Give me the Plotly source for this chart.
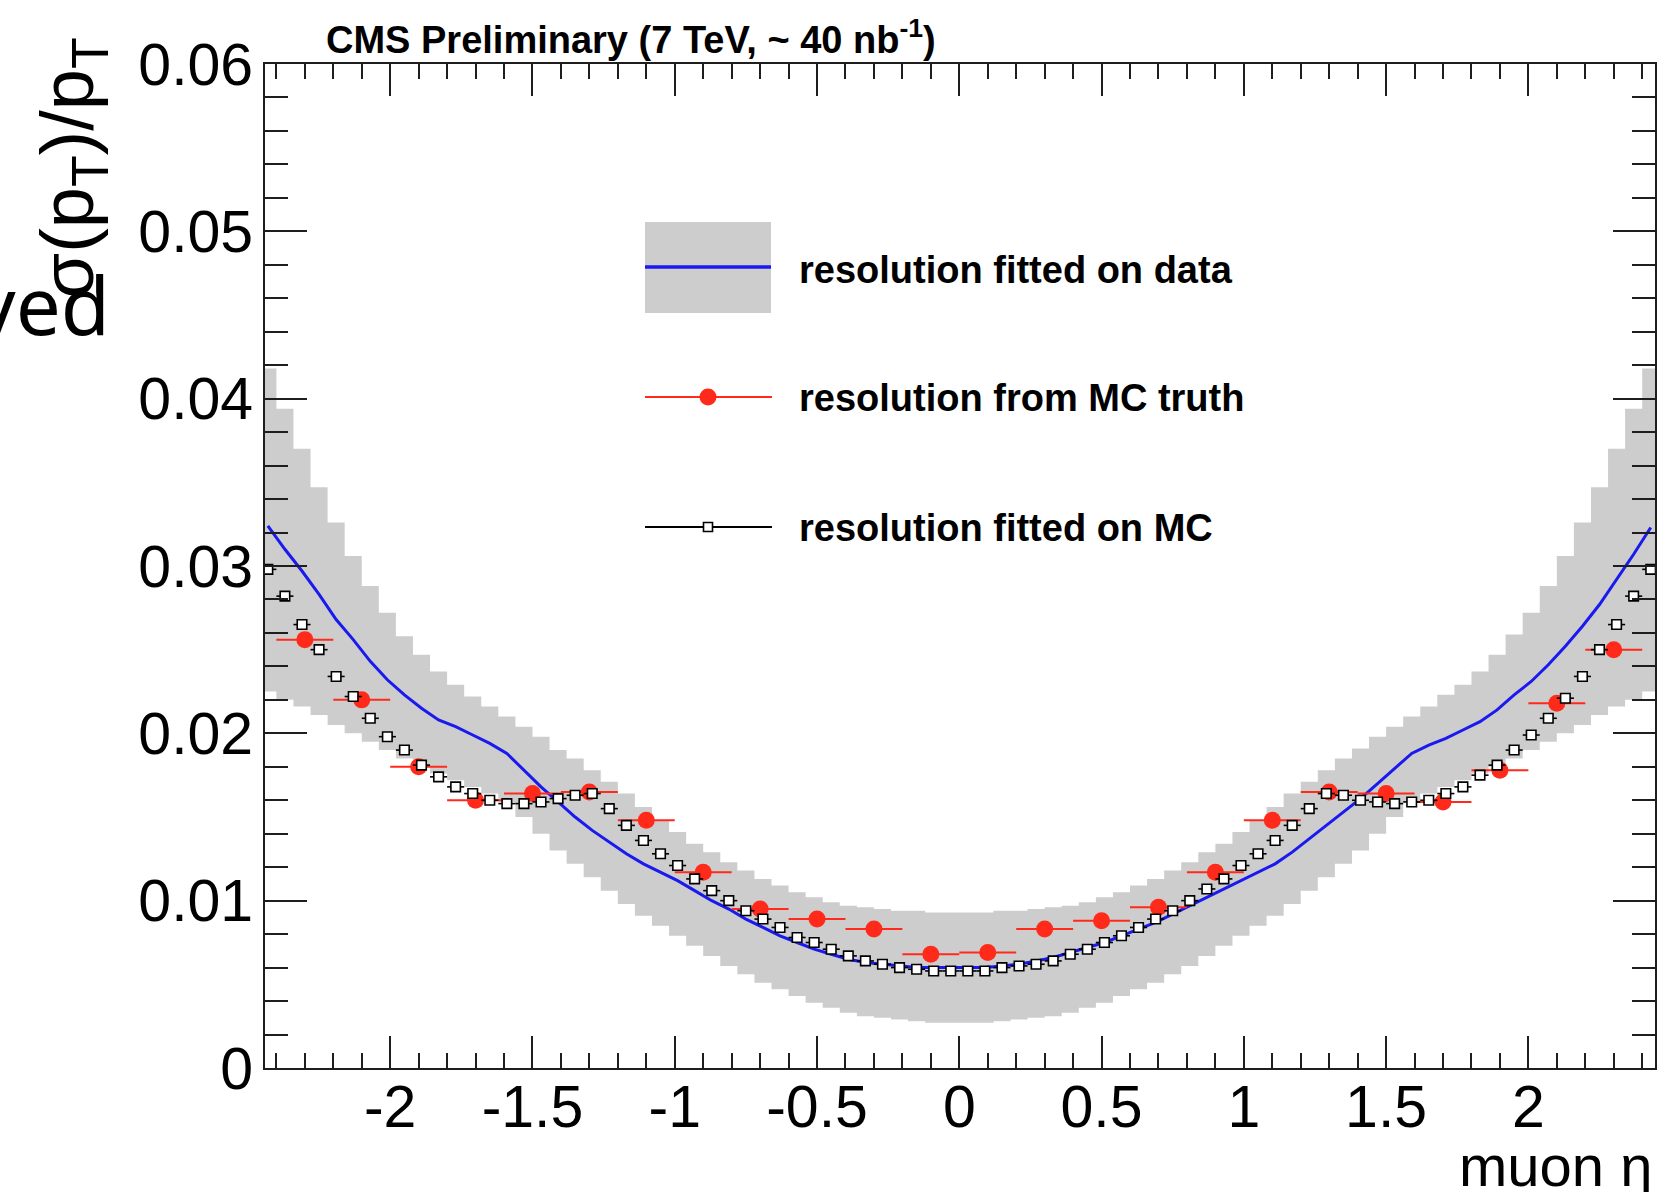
import plotly.graph_objects as go

# ---------------- data ----------------
eta_centers = [
    -2.43, -2.37, -2.31, -2.25, -2.19, -2.13, -2.07, -2.01, -1.95, -1.89,
    -1.83, -1.77, -1.71, -1.65, -1.59, -1.53, -1.47, -1.41, -1.35, -1.29,
    -1.23, -1.17, -1.11, -1.05, -0.99, -0.93, -0.87, -0.81, -0.75, -0.69,
    -0.63, -0.57, -0.51, -0.45, -0.39, -0.33, -0.27, -0.21, -0.15, -0.09,
    -0.03, 0.03, 0.09, 0.15, 0.21, 0.27, 0.33, 0.39, 0.45, 0.51,
    0.57, 0.63, 0.69, 0.75, 0.81, 0.87, 0.93, 0.99, 1.05, 1.11,
    1.17, 1.23, 1.29, 1.35, 1.41, 1.47, 1.53, 1.59, 1.65, 1.71,
    1.77, 1.83, 1.89, 1.95, 2.01, 2.07, 2.13, 2.19, 2.25, 2.31,
    2.37, 2.43]
bin_half_width = 0.03

# resolution fitted on data (blue line)
fit_data = [
    0.0324, 0.0310, 0.0297, 0.0283, 0.0268, 0.0256, 0.0243, 0.0232, 0.0223, 0.0215,
    0.0208, 0.0204, 0.0199, 0.0194, 0.0188, 0.0178, 0.0168, 0.0159, 0.0150, 0.0142,
    0.0135, 0.0128, 0.0122, 0.0117, 0.0112, 0.0106, 0.0100, 0.0095, 0.0089, 0.0084,
    0.0079, 0.0075, 0.0071, 0.0068, 0.0065, 0.0063, 0.0062, 0.0061, 0.0060, 0.0060,
    0.0060, 0.0060, 0.0060, 0.0061, 0.0062, 0.0064, 0.0066, 0.0069, 0.0072, 0.0075,
    0.0079, 0.0083, 0.0087, 0.0092, 0.0097, 0.0102, 0.0107, 0.0112, 0.0117, 0.0122,
    0.0129, 0.0137, 0.0145, 0.0153, 0.0161, 0.0170, 0.0179, 0.0188, 0.0193, 0.0197,
    0.0202, 0.0207, 0.0214, 0.0223, 0.0231, 0.0241, 0.0252, 0.0264, 0.0277, 0.0292,
    0.0307, 0.0323]

# uncertainty band of the data fit (grey)
band_upper = [
    0.0418, 0.0394, 0.0370, 0.0347, 0.0326, 0.0306, 0.0288, 0.0272, 0.0258, 0.0247,
    0.0237, 0.0229, 0.0222, 0.0216, 0.0210, 0.0204, 0.0198, 0.0190, 0.0185, 0.0178,
    0.0171, 0.0164, 0.0156, 0.0148, 0.0141, 0.0134, 0.0129, 0.0123, 0.0118, 0.0113,
    0.0109, 0.0105, 0.0102, 0.0099, 0.0097, 0.0096, 0.0095, 0.0094, 0.0094, 0.0093,
    0.0093, 0.0093, 0.0093, 0.0094, 0.0094, 0.0095, 0.0096, 0.0097, 0.0099, 0.0102,
    0.0105, 0.0109, 0.0113, 0.0118, 0.0123, 0.0129, 0.0134, 0.0141, 0.0148, 0.0156,
    0.0164, 0.0171, 0.0178, 0.0185, 0.0191, 0.0198, 0.0204, 0.0210, 0.0216, 0.0223,
    0.0229, 0.0237, 0.0247, 0.0259, 0.0272, 0.0288, 0.0306, 0.0326, 0.0347, 0.0370,
    0.0394, 0.0418]
band_lower = [
    0.0225, 0.0220, 0.0216, 0.0211, 0.0205, 0.0200, 0.0195, 0.0190, 0.0185, 0.0180,
    0.0176, 0.0172, 0.0168, 0.0164, 0.0159, 0.0150, 0.0140, 0.0130, 0.0122, 0.0114,
    0.0106, 0.0098, 0.0091, 0.0085, 0.0079, 0.0073, 0.0067, 0.0061, 0.0056, 0.0051,
    0.0047, 0.0043, 0.0039, 0.0036, 0.0033, 0.0031, 0.0030, 0.0029, 0.0028, 0.0027,
    0.0027, 0.0027, 0.0027, 0.0028, 0.0029, 0.0030, 0.0031, 0.0033, 0.0036, 0.0039,
    0.0043, 0.0047, 0.0051, 0.0056, 0.0061, 0.0067, 0.0073, 0.0079, 0.0085, 0.0091,
    0.0098, 0.0106, 0.0114, 0.0122, 0.0130, 0.0140, 0.0150, 0.0159, 0.0164, 0.0168,
    0.0172, 0.0176, 0.0180, 0.0185, 0.0190, 0.0195, 0.0200, 0.0205, 0.0211, 0.0216,
    0.0220, 0.0225]

# resolution fitted on MC (open squares)
fit_mc = [
    0.0298, 0.0282, 0.0265, 0.0250, 0.0234, 0.0222, 0.0209, 0.0198, 0.0190, 0.0181,
    0.0174, 0.0168, 0.0164, 0.0160, 0.0158, 0.0158, 0.0159, 0.0161, 0.0163, 0.0164,
    0.0155, 0.0145, 0.0136, 0.0128, 0.0121, 0.0113, 0.0106, 0.0100, 0.0094, 0.0089,
    0.0084, 0.0078, 0.0075, 0.0071, 0.0067, 0.0064, 0.0062, 0.0060, 0.0059, 0.0058,
    0.0058, 0.0058, 0.0058, 0.0060, 0.0061, 0.0062, 0.0064, 0.0068, 0.0071, 0.0075,
    0.0079, 0.0084, 0.0089, 0.0094, 0.0100, 0.0107, 0.0113, 0.0121, 0.0128, 0.0136,
    0.0145, 0.0155, 0.0164, 0.0163, 0.0160, 0.0159, 0.0158, 0.0159, 0.0160, 0.0164,
    0.0168, 0.0175, 0.0181, 0.0190, 0.0199, 0.0209, 0.0221, 0.0234, 0.0250, 0.0265,
    0.0282, 0.0298]

# resolution from MC truth (red points)
truth_eta = [-2.3, -2.1, -1.9, -1.7, -1.5, -1.3, -1.1, -0.9, -0.7, -0.5, -0.3, -0.1,
             0.1, 0.3, 0.5, 0.7, 0.9, 1.1, 1.3, 1.5, 1.7, 1.9, 2.1, 2.3]
truth_res = [0.0256, 0.0220, 0.0180, 0.0160, 0.0164, 0.0165, 0.0148, 0.0117, 0.0095, 0.0089,
             0.0083, 0.0068, 0.0069, 0.0083, 0.0088, 0.0096, 0.0117, 0.0148, 0.0165, 0.0164,
             0.0159, 0.0178, 0.0218, 0.0250]
truth_half_width = 0.1

x_tick_vals = [-2, -1.5, -1, -0.5, 0, 0.5, 1, 1.5, 2]
x_tick_text = ["-2", "-1.5", "-1", "-0.5", "0", "0.5", "1", "1.5", "2"]
y_tick_vals = [0, 0.01, 0.02, 0.03, 0.04, 0.05, 0.06]
y_tick_text = ["0", "0.01", "0.02", "0.03", "0.04", "0.05", "0.06"]

legend_labels = ["resolution fitted on data", "resolution from MC truth",
                 "resolution fitted on MC"]
title_text = "CMS Preliminary (7 TeV, ~ 40 nb<sup>-1</sup>)"
x_title = "muon η"
y_title = "σ(p<sub>T</sub>)/p<sub>T</sub>"
side_text = "ved"

# ---------------- style / layout ----------------
W, H = 1669, 1192
PL, PR, PT, PB = 265, 1655, 64, 1068
GREY = "#cdcdcd"
BLUE = "#1a1aee"
RED = "#ff2a1a"
AX = "#1e1e1e"
FONT = "Liberation Sans, Arial, Helvetica, sans-serif"


def px(x):
    return (x - PL) / (PR - PL)


def py(y):
    return (PB - y) / (PB - PT)


# stepped band polygon built from the bins
band_x, band_y = [], []
for c, u in zip(eta_centers, band_upper):
    band_x += [c - bin_half_width, c + bin_half_width]
    band_y += [u, u]
for c, lo in zip(reversed(eta_centers), reversed(band_lower)):
    band_x += [c + bin_half_width, c - bin_half_width]
    band_y += [lo, lo]

fig = go.Figure()
fig.add_trace(go.Scatter(x=band_x, y=band_y, mode="lines", fill="toself",
                         fillcolor=GREY, line=dict(width=0, color=GREY),
                         hoverinfo="skip", name="band"))
fig.add_trace(go.Scatter(x=eta_centers, y=fit_data, mode="lines",
                         line=dict(color=BLUE, width=3), name=legend_labels[0]))
fig.add_trace(go.Scatter(x=truth_eta, y=truth_res, mode="markers",
                         marker=dict(symbol="circle", size=17, color=RED),
                         error_x=dict(type="constant", value=truth_half_width,
                                      color=RED, thickness=2, width=0),
                         name=legend_labels[1]))
fig.add_trace(go.Scatter(x=eta_centers, y=fit_mc, mode="markers",
                         marker=dict(symbol="square", size=9.5, color="white",
                                     line=dict(color="black", width=1.6)),
                         error_x=dict(type="constant", value=bin_half_width,
                                      color="black", thickness=1.6, width=0),
                         name=legend_labels[2]))

axis_common = dict(showline=True, linecolor=AX, linewidth=2, mirror="ticks",
                   ticks="inside", tickwidth=2, tickcolor=AX, showgrid=False,
                   zeroline=False, tickmode="array",
                   tickfont=dict(family=FONT, size=59, color="black"))

fig.update_layout(
    width=W, height=H, showlegend=False,
    paper_bgcolor="white", plot_bgcolor="white",
    margin=dict(l=PL, r=W - PR, t=PT, b=H - PB, pad=0),
    xaxis=dict(range=[-2.44, 2.445], tickvals=x_tick_vals, ticktext=x_tick_text,
               ticklen=32, ticklabelstandoff=-14,
               minor=dict(ticks="inside", ticklen=15, tickwidth=2, tickcolor=AX,
                          tickmode="linear", tick0=0, dtick=0.1, showgrid=False),
               **axis_common),
    yaxis=dict(range=[0, 0.06], tickvals=y_tick_vals, ticktext=y_tick_text,
               ticklen=42, ticklabelstandoff=-2,
               minor=dict(ticks="inside", ticklen=23, tickwidth=2, tickcolor=AX,
                          tickmode="linear", tick0=0, dtick=0.002, showgrid=False),
               **axis_common),
)

shapes = [
    dict(type="rect", xref="paper", yref="paper", x0=px(645), x1=px(771),
         y0=py(313), y1=py(222), fillcolor=GREY, line=dict(width=0)),
    dict(type="line", xref="paper", yref="paper", x0=px(645), x1=px(771),
         y0=py(267), y1=py(267), line=dict(color=BLUE, width=3.5)),
    dict(type="line", xref="paper", yref="paper", x0=px(645), x1=px(772),
         y0=py(397), y1=py(397), line=dict(color=RED, width=2)),
    dict(type="circle", xref="paper", yref="paper", x0=px(699.5), x1=px(716.5),
         y0=py(405.5), y1=py(388.5), fillcolor=RED, line=dict(width=0)),
    dict(type="line", xref="paper", yref="paper", x0=px(645), x1=px(772),
         y0=py(527), y1=py(527), line=dict(color="black", width=1.8)),
    dict(type="rect", xref="paper", yref="paper", x0=px(703.5), x1=px(712.5),
         y0=py(531.5), y1=py(522.5), fillcolor="white",
         line=dict(color="black", width=1.6)),
]
fig.update_layout(shapes=shapes)

annotations = [
    dict(text="<b>" + legend_labels[0] + "</b>", x=px(797), y=py(270)),
    dict(text="<b>" + legend_labels[1] + "</b>", x=px(797), y=py(398)),
    dict(text="<b>" + legend_labels[2] + "</b>", x=px(797), y=py(528)),
]
for a in annotations:
    a.update(xref="paper", yref="paper", xanchor="left", yanchor="middle",
             showarrow=False, font=dict(family=FONT, size=38, color="black"))

annotations += [
    dict(text="<b>" + title_text + "</b>", x=px(324), y=py(37), xref="paper",
         yref="paper", xanchor="left", yanchor="middle", showarrow=False,
         font=dict(family=FONT, size=38, color="black")),
    dict(text=x_title, x=px(1654), y=py(1200), xref="paper", yref="paper",
         xanchor="right", yanchor="bottom", showarrow=False,
         font=dict(family=FONT, size=58, color="black")),
    dict(text=y_title, x=px(72), y=py(36), xref="paper", yref="paper",
         xanchor="center", yanchor="top", textangle=-90, showarrow=False,
         font=dict(family=FONT, size=74, color="black")),
    dict(text=side_text, x=px(112), y=py(360), xref="paper", yref="paper",
         xanchor="right", yanchor="bottom", showarrow=False,
         font=dict(family="Noto Sans, DejaVu Sans, sans-serif", size=80,
                   color="black")),
]
fig.update_layout(annotations=annotations)

fig.write_html("out.html",
               config={"displayModeBar": False},
               post_script="document.body.style.margin='0';"
                           "document.body.style.overflow='hidden';")
